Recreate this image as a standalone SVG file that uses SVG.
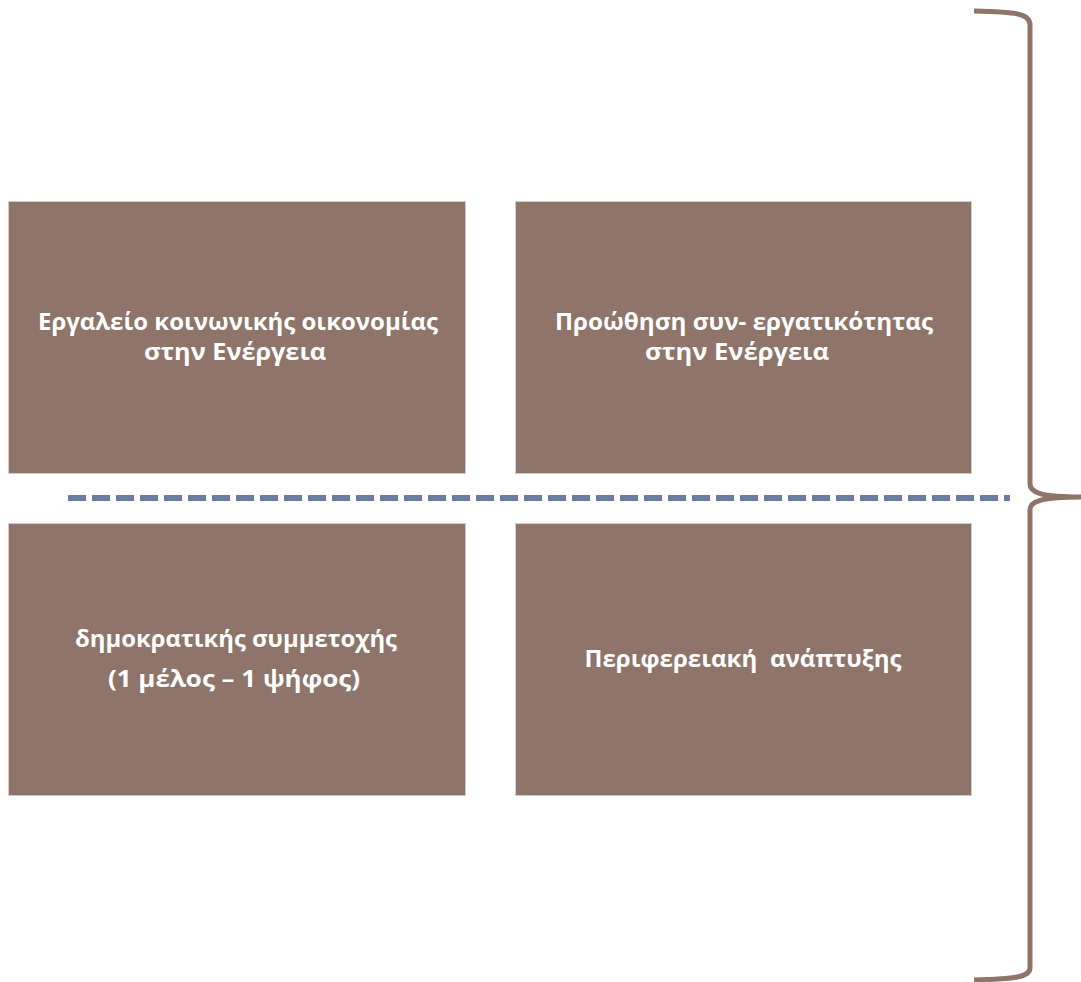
<svg xmlns="http://www.w3.org/2000/svg" width="1081" height="982" viewBox="0 0 1081 982">
<style>
.box{fill:#8E7469;stroke:#D6CBC6;stroke-width:1}
.t{font-family:"Open Sans","Liberation Sans",Arial,sans-serif;font-weight:bold;font-size:23px;fill:#FFFFFF;text-anchor:middle}
.brace{fill:none;stroke:#8E7469;stroke-width:5;stroke-linecap:butt}
.dash{fill:none;stroke:#6E7BA5;stroke-width:6;stroke-dasharray:18 6}
</style>
<rect width="1081" height="982" fill="#FFFFFF"/>
<g id="node1">
<rect class="box" x="8.5" y="201.5" width="457" height="272"/>
<text class="t" x="238" y="330" textLength="400" lengthAdjust="spacingAndGlyphs">Εργαλείο κοινωνικής οικονομίας</text>
<text class="t" x="235" y="360" textLength="182" lengthAdjust="spacingAndGlyphs">στην Ενέργεια</text>
</g>
<g id="node2">
<rect class="box" x="515.5" y="201.5" width="456" height="272"/>
<text class="t" x="744" y="330" textLength="378" lengthAdjust="spacingAndGlyphs">Προώθηση συν- εργατικότητας</text>
<text class="t" x="737" y="360" textLength="184" lengthAdjust="spacingAndGlyphs">στην Ενέργεια</text>
</g>
<g id="node3">
<rect class="box" x="8.5" y="523.5" width="457" height="272"/>
<text class="t" x="236" y="647" textLength="322" lengthAdjust="spacingAndGlyphs">δημοκρατικής συμμετοχής</text>
<text class="t" x="234" y="687" textLength="252" lengthAdjust="spacingAndGlyphs">(1 μέλος – 1 ψήφος)</text>
</g>
<g id="node4">
<rect class="box" x="515.5" y="523.5" width="456" height="272"/>
<text class="t" x="743" y="667" textLength="317" lengthAdjust="spacingAndGlyphs" xml:space="preserve">Περιφερειακή  ανάπτυξης</text>
</g>
<g id="connectors">
<line class="dash" x1="68" y1="498" x2="1010" y2="498"/>
<path class="brace" d="M974 11 C1015 12 1030 13 1030 25 L1030 484 C1030 493 1042 497 1081 497 M1081 497 C1042 497 1030 501 1030 510 L1030 968 C1030 977 1015 979 974 980"/>
</g>
</svg>
